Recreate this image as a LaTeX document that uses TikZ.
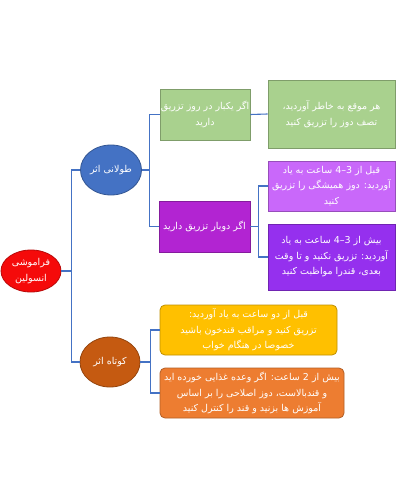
\documentclass[tikz,border=0pt]{standalone}
\usepackage{fontspec}
\usepackage{tikz}
\usetikzlibrary{shapes.geometric}
\newfontfamily\fafont[Script=Arabic]{DejaVu Sans}
\TeXXeTstate=1
\newcommand{\fa}[1]{\beginR #1\endR}
\newcommand{\num}[1]{\beginL #1\endL}
\definecolor{linkblue}{HTML}{4472C4}
\definecolor{rootred}{HTML}{F50A0A}
\definecolor{longblue}{HTML}{4472C4}
\definecolor{shortbrown}{HTML}{C55A11}
\definecolor{onegreen}{HTML}{A9D18E}
\definecolor{twopurple}{HTML}{B224D2}
\definecolor{lightpurple}{HTML}{C968FA}
\definecolor{darkpurple}{HTML}{9530EE}
\definecolor{beforeyellow}{HTML}{FFC000}
\definecolor{afterorange}{HTML}{ED7D31}

\begin{document}
\begin{tikzpicture}[x=1pt,y=-1pt,
	every node/.style={font=\fafont\fontsize{9.5}{15.5}\selectfont, text=white, align=center, inner sep=0.5pt},
	oval/.style={ellipse, fill=#1, draw=#1!75!black, line width=0.8pt},
	box/.style={rectangle, fill=#1, draw=#1!75!black, line width=0.8pt},
	rbox/.style={rectangle, rounded corners=5pt, fill=#1, draw=#1!75!black, line width=0.8pt},
	link/.style={draw=linkblue, line width=1.1pt}]
	\fill[white] (0,0) rectangle (400,500);
	\useasboundingbox (0,0) rectangle (400,500);
	% root and the two kinds
	\node[oval=rootred, minimum width=60, minimum height=42] (root) at (31,271) {\fa{فراموشی}\\\fa{انسولین}};
	\node[oval=longblue, minimum width=61, minimum height=50] (long) at (111,170) {\fa{طولانی اثر}};
	\node[oval=shortbrown, minimum width=60, minimum height=50] (short) at (110,362) {\fa{کوتاه اثر}};
	% long acting
	\node[box=onegreen, minimum width=90, minimum height=51] (once) at (205,114.5) {\fa{اگر یکبار در روز تزریق}\\\fa{دارید}};
	\node[box=onegreen, minimum width=127, minimum height=68] (half) at (331.5,114) {\fa{هر موقع به خاطر آوردید،}\\\fa{تصف دوز را تزریق کنید}};
	\node[box=twopurple, minimum width=91, minimum height=51] (twice) at (204.5,226.5) {\fa{اگر دوبار تزریق دارید}};
	\node[box=lightpurple, minimum width=127, minimum height=50] (early) at (331.5,186) {\fa{قبل از \num{3–4} ساعت به یاد}\\\fa{آوردید: دوز همیشگی را تزریق}\\\fa{کنید}};
	\node[box=darkpurple, minimum width=127, minimum height=66] (late) at (331.5,257) {\fa{بیش از \num{3–4} ساعت به یاد}\\\fa{آوردید: تزریق نکنید و تا وقت}\\\fa{بعدی، قندرا مواظبت کنید}};
	% short acting
	\node[rbox=beforeyellow, minimum width=177, minimum height=50] (before) at (248.5,330) {\fa{قبل از دو ساعت به یاد آوردید:}\\\fa{تزریق کنید و مراقب قندخون باشید}\\\fa{خصوصا در هنگام خواب}};
	\node[rbox=afterorange, minimum width=184, minimum height=50] (after) at (252,393) {\fa{بیش از 2 ساعت: اگر وعده غذایی خورده اید}\\\fa{و قندبالاست، دوز اصلاحی را بر  اساس}\\\fa{آموزش ها بزنید و  قند را کنترل کنید}};
	% connectors
	\draw[link] (root.east) -- ++(10,0) coordinate (rootj);
	\draw[link] (long.west) -| (rootj) |- (short.west);
	\draw[link] (long.east) -- ++(8,0) coordinate (longj);
	\draw[link] (once.west) -| (longj) |- (twice.west);
	\draw[link] (once.east) -- (half.west);
	\draw[link] (twice.east) -- ++(8,0) coordinate (twicej);
	\draw[link] (early.west) -| (twicej) |- (late.west);
	\draw[link] (short.east) -- ++(10,0) coordinate (shortj);
	\draw[link] (before.west) -| (shortj) |- (after.west);
\end{tikzpicture}
\end{document}
